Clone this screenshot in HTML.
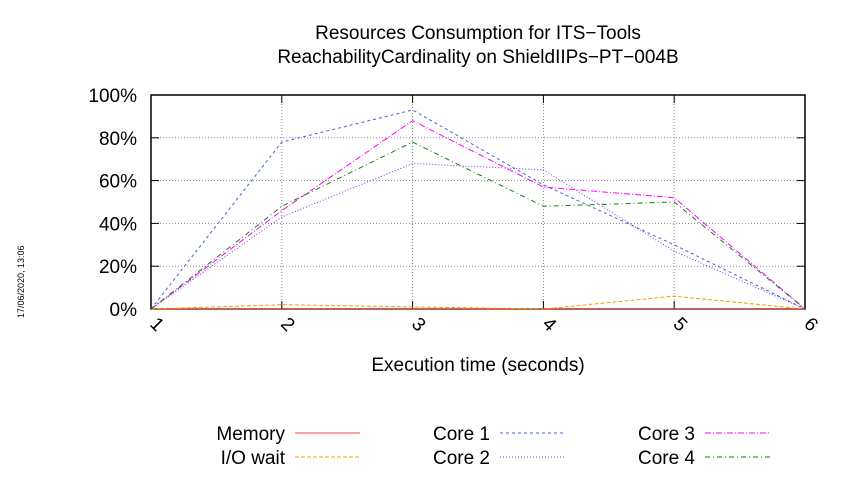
<!DOCTYPE html>
<html><head><meta charset="utf-8"><style>
body{margin:0;background:#fff;}
svg{font-family:"Liberation Sans",sans-serif;}
</style></head><body>
<svg width="850" height="475" xmlns="http://www.w3.org/2000/svg">
<g id="plot"></g>
</svg>
<script>
const categories=[1,2,3,4,5,6];
const yTicks=[0,20,40,60,80,100];
const memory=[0,0,0,0,0,0];
const ioWait=[0,2,1,0,6,0];
const core1=[0,78,93,58,30,0];
const core2=[0,43,68,65,27,0];
const core3=[0,46,88,57,52,0];
const core4=[0,48,78,48,50,0];
const L=151,R=805,T=95,B=309;
const xs=v=>L+(v-1)/(5)*(R-L);
const ys=v=>B-v/100*(B-T);
const svg=document.querySelector('svg');const g=document.getElementById('plot');
const NS='http://www.w3.org/2000/svg';
function mk(t,a,p){const e=document.createElementNS(NS,t);for(const k in a)e.setAttribute(k,a[k]);(p||g).appendChild(e);return e;}
function txt(s,a,p){const e=mk('text',a,p);e.textContent=s;return e;}
let t1=txt('Resources Consumption for ITS−Tools',{x:478,y:39,'text-anchor':'middle','font-size':19},svg);


let t2=txt('ReachabilityCardinality on ShieldIIPs−PT−004B',{x:478,y:63,'text-anchor':'middle','font-size':19},svg);


yTicks.forEach(v=>{
 if(v>0&&v<100){let l=mk('line',{x1:L,x2:R,y1:ys(v),y2:ys(v),stroke:'#888','stroke-dasharray':'1,2'});}
 mk('line',{x1:L,x2:L+8,y1:ys(v),y2:ys(v),stroke:'#000'});mk('line',{x1:R-8,x2:R,y1:ys(v),y2:ys(v),stroke:'#000'});
 let lb=txt(v+'%',{x:L-14,y:ys(v)+7,'text-anchor':'end','font-size':19});
 
 
});
categories.forEach(c=>{
 if(c>1&&c<6){let l=mk('line',{x1:xs(c),x2:xs(c),y1:T,y2:B,stroke:'#888','stroke-dasharray':'1,2'});}
 mk('line',{x1:xs(c),x2:xs(c),y1:B,y2:B-8,stroke:'#000'});mk('line',{x1:xs(c),x2:xs(c),y1:T,y2:T+8,stroke:'#000'});
 let lb=txt(String(c),{x:0,y:0,'font-size':19,transform:`translate(${xs(c)-2},${B+16}) rotate(45)`});
 
 
});
let fr=mk('rect',{x:L,y:T,width:R-L,height:B-T,fill:'none',stroke:'#000','stroke-width':1.5});


let xt=txt('Execution time (seconds)',{x:478,y:371,'text-anchor':'middle','font-size':19},svg);


let ts=txt('17/06/2020, 13:06',{x:0,y:0,'font-size':9,transform:'translate(24,318) rotate(-90)'},svg);


const series=[
 {n:'Memory',d:memory,c:'#ff4040',da:'',lx:360,ly:433},
 {n:'I/O wait',d:ioWait,c:'#f0a000',da:'4,2',lx:360,ly:457},
 {n:'Core 1',d:core1,c:'#4060e0',da:'3,3',lx:565,ly:433},
 {n:'Core 2',d:core2,c:'#8030f0',da:'1,2',lx:565,ly:457},
 {n:'Core 3',d:core3,c:'#ff00ff',da:'6,2,1,2',lx:770,ly:433},
 {n:'Core 4',d:core4,c:'#108010',da:'5,3,1,3',lx:770,ly:457}];
series.forEach(s=>{
 let p=mk('polyline',{points:s.d.map((v,i)=>xs(categories[i])+','+ys(v)).join(' '),fill:'none',stroke:s.c,'stroke-width':1,'stroke-dasharray':s.da});
 
 
 let lt=txt(s.n,{x:s.lx-75,y:s.ly+7,'text-anchor':'end','font-size':19},svg);
 
 
 let ll=mk('line',{x1:s.lx-65,x2:s.lx,y1:s.ly,y2:s.ly,stroke:s.c,'stroke-dasharray':s.da},svg);
 
 
});
</script>
</body></html>
